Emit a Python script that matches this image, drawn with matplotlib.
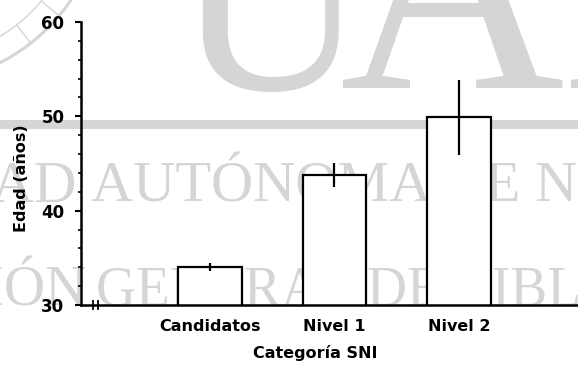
import numpy as np
import matplotlib
matplotlib.use("Agg")
import matplotlib.pyplot as plt
from matplotlib.patches import Arc

# Data
categories = ["Candidatos", "Nivel 1", "Nivel 2"]
edad_media = [34.0, 43.8, 49.9]
edad_error = [0.4, 1.3, 4.0]
y_ticks = [30, 40, 50, 60]

W, H = 578, 369
fig = plt.figure(figsize=(W / 100, H / 100), dpi=100)
fig.patch.set_facecolor("white")

# ---- background watermark (pixel coordinates) ----
wm = "#d5d5d5"
bg = fig.add_axes([0, 0, 1, 1], zorder=-1)
bg.set_xlim(0, W)
bg.set_ylim(H, 0)
bg.axis("off")

serif = "Liberation Serif"
bg.text(174, 89, "U", fontsize=191, family=serif, color=wm, ha="left", va="baseline")
bg.text(340, 88, "A", fontsize=224, family=serif, color=wm, ha="left", va="baseline")
bg.text(562, 88, "N", fontsize=224, family=serif, color=wm, ha="left", va="baseline")
bg.axhspan(120, 128.5, color=wm, lw=0)
bg.text(77, 202, "UNIVERSIDAD", fontsize=42.5, family=serif, color=wm,
        ha="right", va="baseline")
bg.text(91, 202, "AUTÓNOMA DE NUEVO LEÓN", fontsize=42, family=serif, color=wm,
        ha="left", va="baseline")
bg.text(87, 306, "DIRECCIÓN", fontsize=41, family=serif, color=wm,
        ha="right", va="baseline")
bg.text(96, 306, "GENERAL DE BIBLIOTECAS", fontsize=40, family=serif, color=wm,
        ha="left", va="baseline")
# seal ring in the corner
bg.add_patch(Arc((-85, -105), 376, 376, theta1=0, theta2=90, color=wm, lw=2.2))
bg.add_patch(Arc((-85, -105), 330, 330, theta1=0, theta2=90, color=wm, lw=1.0))
for ang in np.deg2rad([40, 52, 64]):
    r0, r1 = 165, 188
    bg.plot([-85 + r0 * np.cos(ang), -85 + r1 * np.cos(ang)],
            [-105 + r0 * np.sin(ang), -105 + r1 * np.sin(ang)],
            color=wm, lw=1.0)

# ---- bar chart ----
ax = fig.add_axes([81 / W, 64 / H, 1 - 81 / W, 283 / H], zorder=1)
ax.set_facecolor("none")

x = np.arange(len(categories))
ax.bar(x, edad_media, width=0.51, color="white", edgecolor="black",
       linewidth=1.6, zorder=2)
ax.errorbar(x, edad_media, yerr=edad_error, fmt="none", ecolor="black",
            elinewidth=1.6, capsize=0, zorder=3)

ax.set_xlim(-1.036, 2.956)
ax.set_ylim(30, 60)
ax.set_yticks(y_ticks)
ax.set_yticks(np.arange(30, 61, 2), minor=True)
ax.set_xticks(x)
ax.set_xticklabels(categories)

for s in ["top", "right"]:
    ax.spines[s].set_visible(False)
for s in ["left", "bottom"]:
    ax.spines[s].set_linewidth(1.8)
    ax.spines[s].set_color("black")

bold = dict(family="DejaVu Sans", weight="bold")
ax.tick_params(axis="y", which="major", direction="out", length=4, width=1.5,
               pad=8, labelsize=12)
ax.tick_params(axis="y", which="minor", direction="out", length=2.5, width=1.2)
ax.tick_params(axis="x", length=0, pad=10, labelsize=11.5)
for lab in ax.get_yticklabels() + ax.get_xticklabels():
    lab.set_fontfamily("DejaVu Sans")
    lab.set_fontweight("bold")

ax.set_ylabel("Edad (años)", fontsize=11.5, **bold)
ax.set_xlabel("Categoría SNI", fontsize=11.5, **bold)
ax.yaxis.set_label_coords(-0.105, 0.449)
ax.xaxis.set_label_coords(0.471, -0.141)

# axis break marks near the origin
for fx in [0.025, 0.034]:
    ax.plot([fx, fx], [-0.013, 0.013], transform=ax.transAxes, color="black",
            lw=1.3, clip_on=False, zorder=4)

fig.savefig("out.png", dpi=100)
